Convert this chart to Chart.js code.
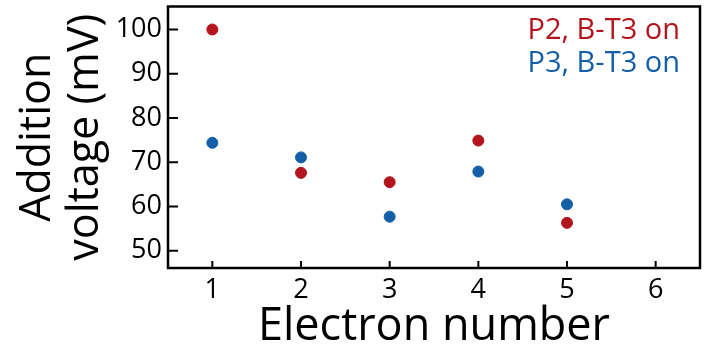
<!DOCTYPE html>
<html lang="en">
<head>
<meta charset="UTF-8">
<script src="https://cdn.jsdelivr.net/npm/chart.js"></script>
<title>Addition voltage</title>
<style>
  body { margin: 0; background: #fff; }
  #wrap { width: 709px; height: 350px; }
</style>
</head>
<body>
<div id="wrap"><canvas id="grafico"></canvas></div>
<script>
  const electrons = [1, 2, 3, 4, 5]
  const p2Values = [100, 67.6, 65.5, 74.9, 56.3]
  const p3Values = [74.4, 71.1, 57.7, 67.9, 60.5]
  const xTicks = [1, 2, 3, 4, 5, 6]
  const yTicks = [50, 60, 70, 80, 90, 100]
  const seriesNames = ['P2, B-T3 on', 'P3, B-T3 on']
  const colors = ['#b3141d', '#155fa8']

  const fonte = '"Open Sans", "Noto Sans", sans-serif'

  // moldura + ticks para dentro + legenda
  const moldura = {
    id: 'moldura',
    afterDraw(chart) {
      const { ctx, chartArea: a, scales } = chart
      ctx.save()
      ctx.strokeStyle = '#000'
      ctx.lineWidth = 2.5
      ctx.strokeRect(a.left, a.top, a.right - a.left, a.bottom - a.top)
      ctx.lineWidth = 2
      ctx.beginPath()
      xTicks.forEach(v => {
        const px = scales.x.getPixelForValue(v)
        ctx.moveTo(px, a.bottom)
        ctx.lineTo(px, a.bottom - 7)
      })
      yTicks.forEach(v => {
        const py = scales.y.getPixelForValue(v)
        ctx.moveTo(a.left, py)
        ctx.lineTo(a.left + 10, py)
      })
      ctx.stroke()
      ctx.font = '29px ' + fonte
      ctx.textAlign = 'right'
      ctx.textBaseline = 'middle'
      chart.data.datasets.forEach((ds, i) => {
        ctx.fillStyle = ds.backgroundColor
        ctx.fillText(ds.label, a.right - 20, a.top + 24 + i * 33)
      })
      ctx.restore()
    }
  }

  const semPadding = s => { s.paddingTop = 0; s.paddingBottom = 0; s.paddingLeft = 0; s.paddingRight = 0 }

  const ctx = document.getElementById('grafico')
  new Chart(ctx, {
    type: 'scatter',
    data: {
      datasets: [0, 1].map(i => ({
        label: seriesNames[i],
        data: electrons.map((e, k) => ({ x: e, y: [p2Values, p3Values][i][k] })),
        backgroundColor: colors[i],
        borderColor: colors[i],
        pointRadius: 5.5,
        pointHoverRadius: 5.5
      }))
    },
    options: {
      responsive: true,
      maintainAspectRatio: false,
      animation: false,
      layout: { padding: { top: 6, right: 9, left: 0, bottom: 0 } },
      plugins: { legend: { display: false }, tooltip: { enabled: false } },
      scales: {
        x: {
          type: 'linear',
          min: 0.5,
          max: 6.5,
          afterBuildTicks: s => { s.ticks = xTicks.map(v => ({ value: v })) },
          afterFit: s => { s.height = 82; semPadding(s) },
          grid: { display: false, drawTicks: false },
          border: { display: false },
          ticks: { color: '#000', font: { family: fonte, size: 27 }, padding: 6 },
          title: {
            display: true,
            text: 'Electron number',
            color: '#000',
            font: { family: fonte, size: 45, lineHeight: 1.0 },
            padding: { top: 0, bottom: 0 }
          }
        },
        y: {
          min: 46.1,
          max: 105.2,
          afterBuildTicks: s => { s.ticks = yTicks.map(v => ({ value: v })) },
          afterFit: s => { s.width = 168; semPadding(s) },
          grid: { display: false, drawTicks: false },
          border: { display: false },
          ticks: { color: '#000', font: { family: fonte, size: 27 }, padding: 6 },
          title: {
            display: true,
            text: ['Addition', 'voltage (mV)'],
            color: '#000',
            font: { family: fonte, size: 43, lineHeight: 1.13 },
            padding: { top: 13, bottom: 0 }
          }
        }
      }
    },
    plugins: [moldura]
  })
</script>
</body>
</html>
